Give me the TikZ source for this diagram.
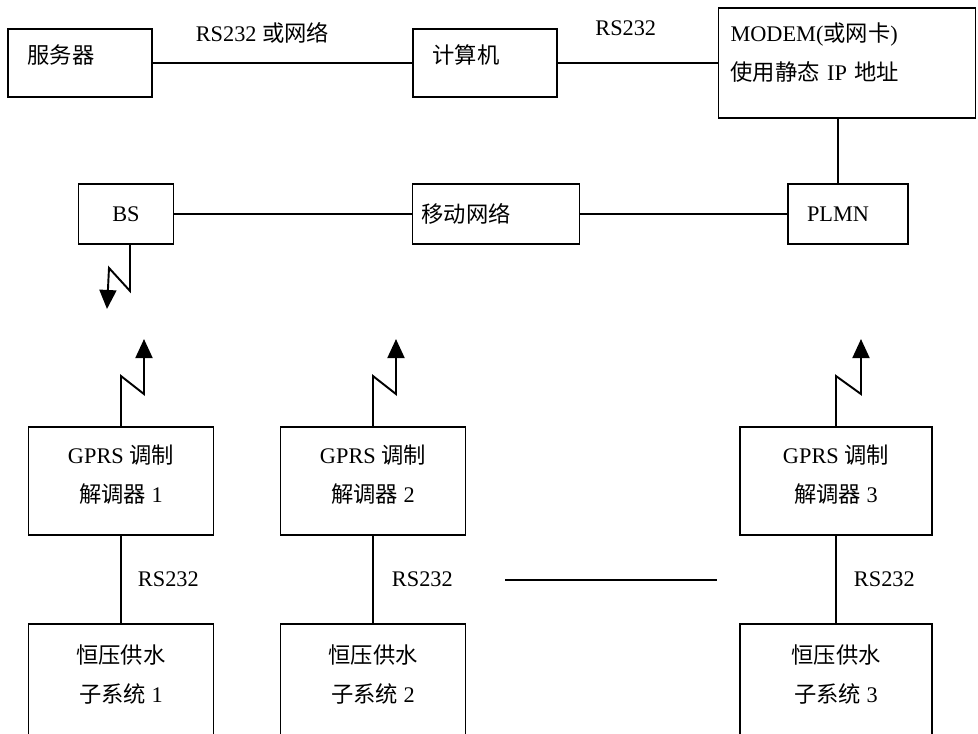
\documentclass[tikz,border=0pt]{standalone}
\usepackage{fontspec}
\setmainfont{Liberation Serif}
\newfontfamily\cjk{Noto Sans CJK SC}
\usetikzlibrary{positioning, arrows.meta}

\begin{document}
\begin{tikzpicture}[
  x=0.02cm, y=-0.02cm,
  box/.style={draw, line width=1.1pt, inner sep=0pt,
              font=\fontsize{12.7}{22.5}\selectfont},
  topbox/.style={box, minimum width=2.88cm, minimum height=1.36cm,
                 text width=2.1cm, align=left, text depth=0.37cm},
  netbox/.style={box, minimum height=1.2cm},
  gprsbox/.style={box, minimum width=3.7cm, minimum height=2.16cm,
                  align=center, text depth=0.29cm},
  subbox/.style={box, minimum width=3.7cm, minimum height=2.4cm,
                 align=center, text depth=0.42cm},
  lbl/.style={font=\fontsize{12.7}{15}\selectfont, inner sep=0pt},
  wire/.style={line width=1.1pt},
  antenna/.style={line width=1.1pt, -{Triangle[width=0.34cm, length=0.38cm]}}
]
  \useasboundingbox (0,0) rectangle (978,734);
  \clip (0,0) rectangle (978,734);

  % top row
  \node[topbox] (server) at (80,63)  {{\cjk 服务器}};
  \node[topbox] (pc)     at (485,63) {{\cjk 计算机}};
  \node[box, minimum width=5.14cm, minimum height=2.2cm, text width=4.66cm,
        align=left, text depth=1.25cm] (modem) at (847,63)
        {MODEM({\cjk 或网卡})\\{\cjk 使用静态} IP {\cjk 地址}};

  % network row
  \node[netbox, minimum width=1.9cm]  (bs)     at (126,214) {BS};
  \node[netbox, minimum width=3.34cm, text width=2.98cm, align=left]
        (mobile) at (496,214) {{\cjk 移动网络}};
  \node[netbox, minimum width=2.4cm, text width=1.64cm, align=left]
        (plmn)   at (848,214) {PLMN};

  % modems
  \node[gprsbox] (gprs1) at (121,481) {GPRS {\cjk 调制}\\{\cjk 解调器} 1};
  \node[gprsbox] (gprs2) at (373,481) {GPRS {\cjk 调制}\\{\cjk 解调器} 2};
  \node[gprsbox, minimum width=3.84cm] (gprs3) at (836,481) {GPRS {\cjk 调制}\\{\cjk 解调器} 3};

  % water supply subsystems
  \node[subbox] (sub1) at (121,684) {{\cjk 恒压供水}\\{\cjk 子系统} 1};
  \node[subbox] (sub2) at (373,684) {{\cjk 恒压供水}\\{\cjk 子系统} 2};
  \node[subbox, minimum width=3.84cm] (sub3) at (836,684) {{\cjk 恒压供水}\\{\cjk 子系统} 3};

  \draw[wire] (server) -- node[lbl, above=0.38cm, xshift=-0.4cm] {RS232 {\cjk 或网络}} (pc);
  \draw[wire] (pc) -- node[lbl, above=0.52cm, xshift=-0.24cm] {RS232} (modem);
  \coordinate (drop) at ([xshift=-0.2cm]plmn.north);
  \draw[wire] (drop) -- (drop |- modem.south);
  \draw[wire] (bs) -- (mobile);
  \draw[wire] (mobile) -- (plmn);

  \draw[wire] (gprs1) -- node[lbl, right=0.32cm] {RS232} (sub1);
  \draw[wire] (gprs2) -- node[lbl, right=0.36cm] {RS232} (sub2);
  \draw[wire] (gprs3) -- node[lbl, right=0.34cm] {RS232} (sub3);

  \coordinate (more-l) at (505,580);
  \coordinate (more-r) at (717,580);
  \draw[wire] (more-l) -- (more-r);

  % radio links
  \draw[antenna] ([xshift=0.08cm]bs.south) -- ++(0,46) -- ++(-21,-23) -- ++(-2,41);
  \draw[antenna] (gprs1.north) -- ++(0,-50) -- ++(23,18) -- ++(0,-55);
  \draw[antenna] (gprs2.north) -- ++(0,-50) -- ++(23,18) -- ++(0,-55);
  \draw[antenna] (gprs3.north) -- ++(0,-50) -- ++(25,18) -- ++(0,-55);
\end{tikzpicture}
\end{document}
